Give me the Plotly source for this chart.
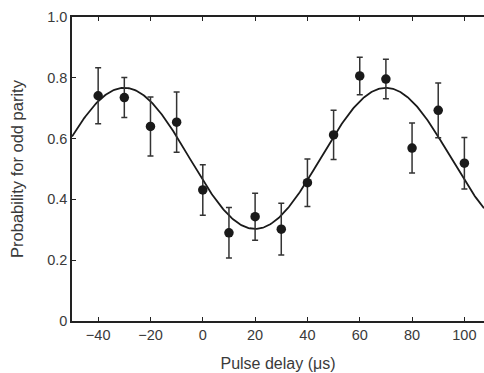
import numpy as np
import plotly.graph_objects as go

# Measured parity signal vs. pulse delay
delay_us = [-40, -30, -20, -10, 0, 10, 20, 30, 40, 50, 60, 70, 80, 90, 100]
prob_odd = [0.741, 0.735, 0.640, 0.654, 0.431, 0.290, 0.343, 0.302,
            0.455, 0.612, 0.806, 0.796, 0.569, 0.693, 0.519]
prob_err = [0.092, 0.066, 0.097, 0.099, 0.083, 0.083, 0.077, 0.085,
            0.078, 0.081, 0.062, 0.065, 0.082, 0.090, 0.085]

# Sinusoidal fit parameters
fit_offset = 0.535
fit_amplitude = 0.232
fit_period_us = 100.0
fit_peak_us = 70.0

x_range = [-50, 107.5]
x_ticks = [-40, -20, 0, 20, 40, 60, 80, 100]
y_ticks = [0, 0.2, 0.4, 0.6, 0.8, 1.0]
y_ticktext = ["0", "0.2", "0.4", "0.6", "0.8", "1.0"]

t_fit = np.linspace(x_range[0], x_range[1], 400)
p_fit = fit_offset + fit_amplitude * np.cos(2 * np.pi * (t_fit - fit_peak_us) / fit_period_us)

ink = "#1a1a1a"
text_col = "#3a3a3a"

fig = go.Figure()
fig.add_trace(go.Scatter(
    x=t_fit, y=p_fit, mode="lines",
    line=dict(color=ink, width=1.8), hoverinfo="skip", showlegend=False,
))
fig.add_trace(go.Scatter(
    x=delay_us, y=prob_odd, mode="markers",
    marker=dict(color=ink, size=9.5),
    error_y=dict(type="data", array=prob_err, visible=True,
                 color="#333333", thickness=1.5, width=3),
    showlegend=False,
))

fig.update_layout(
    width=484, height=373,
    margin=dict(l=72, r=0, t=17, b=52),
    paper_bgcolor="white", plot_bgcolor="white",
    font=dict(family="Liberation Sans, Arial, sans-serif", size=14.5, color=text_col),
    xaxis=dict(
        range=x_range, tickvals=x_ticks,
        showline=True, linecolor="#222222", linewidth=1.5, mirror="ticks",
        ticks="inside", ticklen=4, tickwidth=1.2, tickcolor="#222222",
        showgrid=False, zeroline=False,
        title=dict(text="Pulse delay (μs)", font=dict(size=16), standoff=16),
    ),
    yaxis=dict(
        range=[0, 1.0], tickvals=y_ticks, ticktext=y_ticktext,
        showline=True, linecolor="#222222", linewidth=1.5, mirror=False,
        ticks="inside", ticklen=4, tickwidth=1.2, tickcolor="#222222",
        showgrid=False, zeroline=False,
        title=dict(text="Probability for odd parity", font=dict(size=16.5), standoff=19),
    ),
)

fig.write_html("out.html")
